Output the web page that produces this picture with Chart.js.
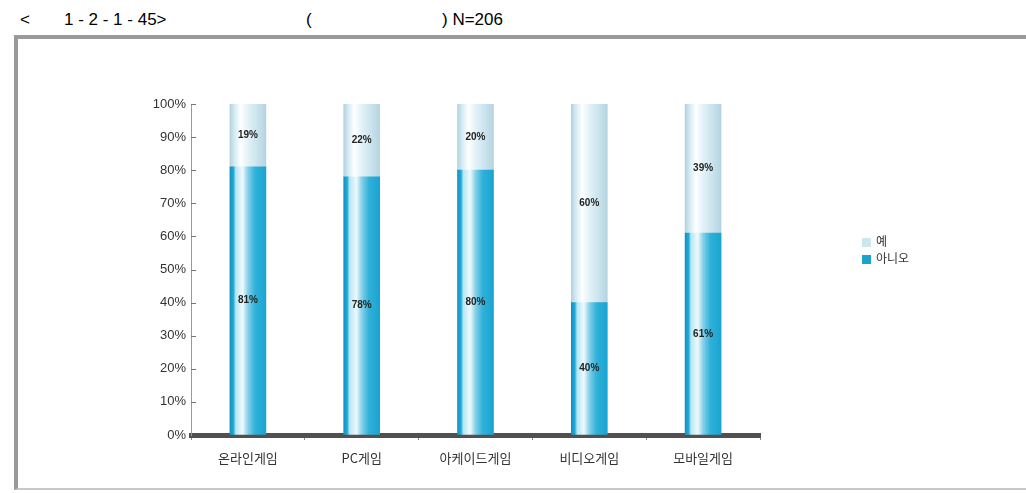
<!DOCTYPE html>
<html><head><meta charset="utf-8">
<script src="https://cdn.jsdelivr.net/npm/chart.js@4/dist/chart.umd.min.js"></script>
<style>
html,body{margin:0;padding:0;background:#fff;width:1026px;height:493px;overflow:hidden;}
#wrap{position:relative;width:1026px;height:493px;}
.t{position:absolute;top:10px;font:17px "Liberation Sans",Arial,sans-serif;line-height:20px;color:#000;white-space:pre;}
#frame{position:absolute;left:14px;top:35px;width:1012px;height:455px;border-left:4px solid #9a9a9a;border-top:4px solid #9a9a9a;border-bottom:2px solid #c8c8c8;box-sizing:border-box;}
#c{position:absolute;left:0;top:0;}
#legend{position:absolute;left:862px;top:232px;font:12px "Noto Sans CJK KR",sans-serif;color:#333;line-height:17px;}
#legend span.sw{display:inline-block;width:9px;height:9px;margin-right:5px;vertical-align:-1px;}
</style></head>
<body><div id="wrap">
<div class="t" style="left:20px">&lt;</div>
<div class="t" style="left:64px">1 - 2 - 1 - 45&gt;</div>
<div class="t" style="left:306px">(</div>
<div class="t" style="left:442px">) N=206</div>
<div id="frame"></div>
<canvas id="c" width="1026" height="493"></canvas>
<div id="legend"><div><span class="sw" style="background:#cde7ef"></span>예</div><div><span class="sw" style="background:#1aa3cf"></span>아니오</div></div>
</div>
<script>
const categories = ['온라인게임','PC게임','아케이드게임','비디오게임','모바일게임'];
const yesValues = [19, 22, 20, 60, 39];
const noValues = [81, 78, 80, 40, 61];
const yTicks = [0,10,20,30,40,50,60,70,80,90,100];
const seriesNames = ['예','아니오'];

const BAR_W = 36;
function barGradient(ctx, stops) {
  const chart = ctx.chart;
  const xs = chart.scales.x;
  let cx = NaN;
  if (xs && xs.width > 0) cx = xs.getPixelForValue(ctx.dataIndex);
  if (!isFinite(cx)) return stops[stops.length-1][1];
  const g = chart.ctx.createLinearGradient(cx - BAR_W/2, 0, cx + BAR_W/2, 0);
  stops.forEach(s => g.addColorStop(s[0], s[1]));
  return g;
}
const noStops = [[0,'#0f93c2'],[0.1,'#22acd8'],[0.16,'#b5e6f3'],[0.35,'#eefafd'],[0.5,'#86d0e8'],[0.7,'#2fb1da'],[1,'#1aa4d1']];
const yesStops = [[0,'#b3d2de'],[0.12,'#d2eaf2'],[0.3,'#ffffff'],[0.5,'#e2f2f7'],[0.75,'#cbe4ee'],[1,'#b6d4e0']];

const valueLabels = {
  id:'valueLabels',
  afterDatasetsDraw(chart){
    const c = chart.ctx;
    c.save();
    c.font = 'bold 10px "Liberation Sans", Arial, sans-serif';
    c.fillStyle = '#222';
    c.textAlign = 'center';
    c.textBaseline = 'middle';
    chart.data.datasets.forEach((ds, di) => {
      const meta = chart.getDatasetMeta(di);
      meta.data.forEach((bar, i) => {
        const y = (bar.y + bar.base) / 2;
        c.fillText(ds.data[i] + '%', bar.x, y);
      });
    });
    c.restore();
  }
};

const innerTicks = {
  id:'innerTicks',
  afterDraw(chart){
    const ys = chart.scales.y, c = chart.ctx, x0 = chart.chartArea.left;
    c.save();
    c.strokeStyle = '#777';
    c.lineWidth = 1;
    ys.ticks.forEach(t => {
      const y = Math.round(ys.getPixelForValue(t.value)) + 0.5;
      if (t.value === 0) return;
      c.beginPath(); c.moveTo(x0, y); c.lineTo(x0 + 5, y); c.stroke();
    });
    c.restore();
  }
};

new Chart(document.getElementById('c'), {
  type:'bar',
  data:{
    labels: categories,
    datasets:[
      {label: seriesNames[1], data: noValues, backgroundColor: ctx => barGradient(ctx, noStops), barThickness: BAR_W, borderWidth:0},
      {label: seriesNames[0], data: yesValues, backgroundColor: ctx => barGradient(ctx, yesStops), barThickness: BAR_W, borderWidth:0}
    ]
  },
  options:{
    responsive:false,
    animation:false,
    layout:{padding:{left:120, right:266, top:104, bottom:18}},
    plugins:{legend:{display:false}, tooltip:{enabled:false}},
    scales:{
      x:{
        stacked:true,
        afterFit(s){ s.height = 40; },
        grid:{drawOnChartArea:false, offset:true, color:'#888', tickLength:5},
        border:{display:true, color:'#505050', width:5},
        ticks:{font:{family:'"Noto Sans CJK KR", sans-serif', size:13}, color:'#333', padding:10}
      },
      y:{
        stacked:true, min:0, max:100,
        afterFit(s){ s.width = 71; },
        afterBuildTicks(s){ s.ticks = yTicks.map(v => ({value:v})); },
        grid:{drawOnChartArea:false, drawTicks:false},
        border:{display:true, color:'#999', width:1, dash:[1,2]},
        ticks:{font:{family:'"Liberation Sans", Arial, sans-serif', size:13}, color:'#333', padding:5, callback: v => v + '%'}
      }
    }
  },
  plugins:[valueLabels, innerTicks]
});
</script>
</body></html>
